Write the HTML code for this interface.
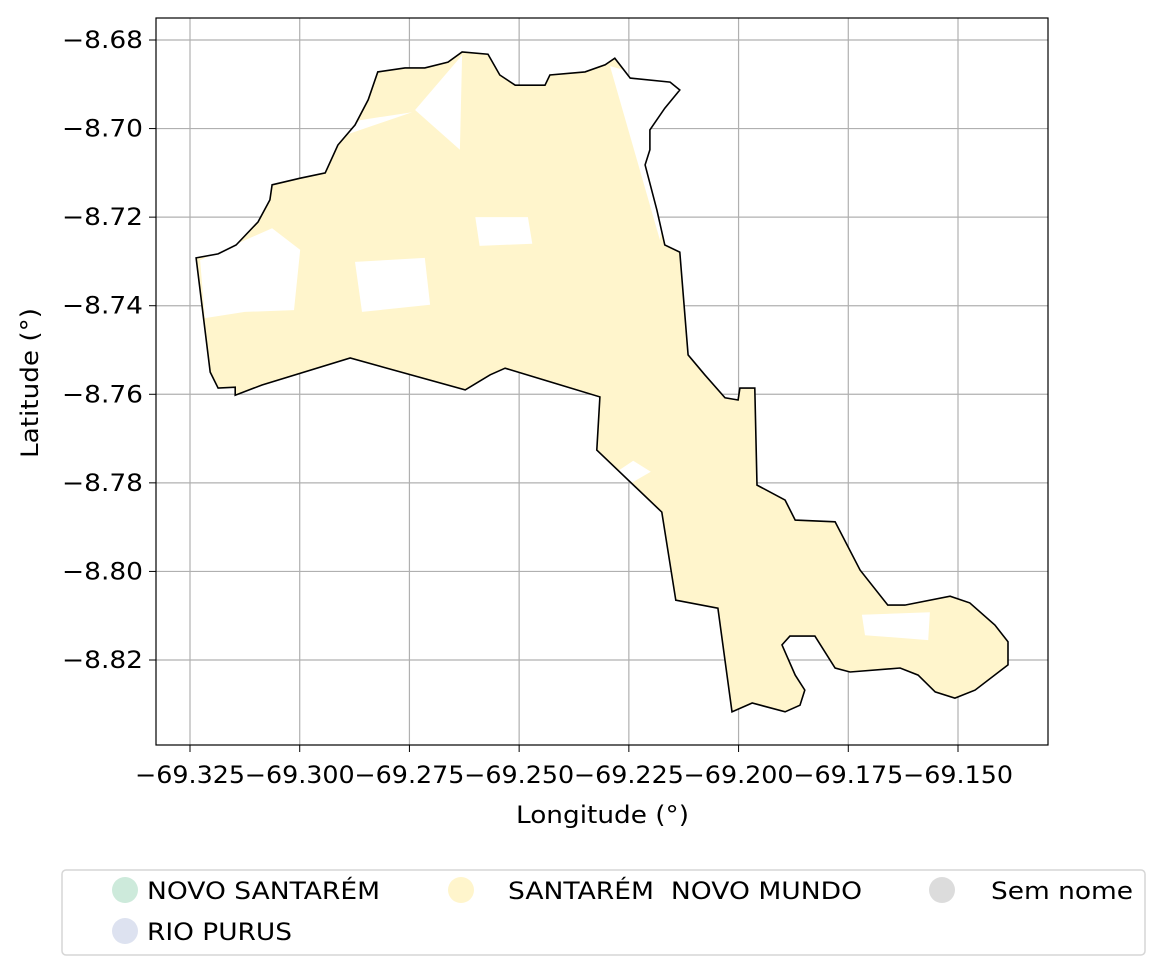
<!DOCTYPE html>
<html><head><meta charset="utf-8"><style>
body{margin:0;background:#fff;width:1164px;height:975px;overflow:hidden}
svg text{font-family:"DejaVu Sans","Liberation Sans",sans-serif;fill:#000}
</style></head><body>
<svg id="chart" width="1164" height="975">
<defs><clipPath id="bclip"><polygon id="clipPoly" points=""/></clipPath></defs>
<g id="grid"></g>
<g id="map"></g>
<rect x="156" y="18" width="892" height="727" fill="none" stroke="#000" stroke-width="1.2"/>
<g id="ticks"></g>
<text x="516" y="823" font-size="24" textLength="173" lengthAdjust="spacingAndGlyphs">Longitude (°)</text>
<text x="38" y="458" font-size="24" textLength="150" lengthAdjust="spacingAndGlyphs" transform="rotate(-90 38 458)">Latitude (°)</text>
<g>
<rect x="62" y="870" width="1083" height="85" rx="4" fill="#fff" stroke="#d6d6d6" stroke-width="1.5"/>
<g><circle cx="125" cy="890" r="13" fill="#cdeadb"/><text x="147" y="899" font-size="24" textLength="233" lengthAdjust="spacingAndGlyphs">NOVO SANTARÉM</text></g>
<g><circle cx="125" cy="931" r="13" fill="#dde2f0"/><text x="147" y="940" font-size="24" textLength="145" lengthAdjust="spacingAndGlyphs">RIO PURUS</text></g>
<g><circle cx="461" cy="890" r="13" fill="#fff5cc"/><text x="508" y="899" font-size="24" textLength="354" lengthAdjust="spacingAndGlyphs">SANTARÉM&#160; NOVO MUNDO</text></g>
<g><circle cx="942" cy="890" r="13" fill="#dcdcdc"/><text x="991" y="899" font-size="24" textLength="142" lengthAdjust="spacingAndGlyphs">Sem nome</text></g>
</g>
</svg>
<script>
const xTicks=[-69.325,-69.300,-69.275,-69.250,-69.225,-69.200,-69.175,-69.150];
const yTicks=[-8.68,-8.70,-8.72,-8.74,-8.76,-8.78,-8.80,-8.82];
const boundaryLon=[-69.3236,-69.3186,-69.3145,-69.3095,-69.3068,-69.3063,-69.2999,-69.2942,-69.2913,-69.2874,-69.2844,-69.2822,-69.2760,-69.2715,-69.2662,-69.2630,-69.2571,-69.2544,-69.2509,-69.2441,-69.2430,-69.2350,-69.2304,-69.2282,-69.2247,-69.2156,-69.2134,-69.2168,-69.2202,-69.2202,-69.2213,-69.2186,-69.2168,-69.2134,-69.2115,-69.2077,-69.2031,-69.2001,-69.1997,-69.1963,-69.1958,-69.1894,-69.1871,-69.1780,-69.1723,-69.1660,-69.1621,-69.1518,-69.1473,-69.1416,-69.1386,-69.1386,-69.1461,-69.1507,-69.1552,-69.1591,-69.1632,-69.1746,-69.1780,-69.1826,-69.1883,-69.1901,-69.1871,-69.1849,-69.1860,-69.1894,-69.1969,-69.2015,-69.2047,-69.2143,-69.2175,-69.2323,-69.2316,-69.2532,-69.2566,-69.2623,-69.2885,-69.3086,-69.3147,-69.3147,-69.3186,-69.3204];
const boundaryLat=[-8.7292,-8.7283,-8.7263,-8.7211,-8.7161,-8.7127,-8.7112,-8.7100,-8.7037,-8.6992,-8.6935,-8.6872,-8.6863,-8.6863,-8.6850,-8.6827,-8.6832,-8.6879,-8.6902,-8.6902,-8.6879,-8.6872,-8.6856,-8.6841,-8.6886,-8.6895,-8.6913,-8.6954,-8.7003,-8.7048,-8.7082,-8.7184,-8.7263,-8.7279,-8.7511,-8.7556,-8.7608,-8.7613,-8.7586,-8.7586,-8.7805,-8.7839,-8.7884,-8.7888,-8.7997,-8.8076,-8.8076,-8.8056,-8.8071,-8.8121,-8.8159,-8.8211,-8.8268,-8.8286,-8.8272,-8.8234,-8.8218,-8.8227,-8.8218,-8.8146,-8.8146,-8.8166,-8.8234,-8.8268,-8.8302,-8.8317,-8.8297,-8.8317,-8.8083,-8.8065,-8.7866,-8.7726,-8.7606,-8.7541,-8.7556,-8.7590,-8.7518,-8.7579,-8.7602,-8.7584,-8.7586,-8.7550];
const holesLon=[[-69.3227,-69.3063,-69.2999,-69.3013,-69.3125,-69.3216],[-69.2897,-69.2744,-69.2863],[-69.2737,-69.2630,-69.2635],[-69.2293,-69.2134,-69.2179],[-69.2874,-69.2715,-69.2703,-69.2858],[-69.1719,-69.1564,-69.1568,-69.1712],[-69.2600,-69.2480,-69.2470,-69.2590],[-69.2300,-69.2240,-69.2200,-69.2270]];
const holesLat=[[-8.7297,-8.7225,-8.7274,-8.7410,-8.7414,-8.7428],[-8.7015,-8.6963,-8.6981],[-8.6958,-8.6834,-8.7048],[-8.6859,-8.6902,-8.7252],[-8.7301,-8.7292,-8.7398,-8.7414],[-8.8098,-8.8092,-8.8155,-8.8144],[-8.7200,-8.7200,-8.7260,-8.7265],[-8.7790,-8.7750,-8.7775,-8.7815]];
const X=v=>190+(v+69.325)/0.025*109.714;
const Y=v=>40-(v+8.68)/0.02*88.571;
const NS="http://www.w3.org/2000/svg";
const grid=document.getElementById('grid'),ticks=document.getElementById('ticks'),map=document.getElementById('map');
xTicks.forEach(t=>{const x=X(t);
 const l=document.createElementNS(NS,'line');l.setAttribute('x1',x);l.setAttribute('x2',x);l.setAttribute('y1',18);l.setAttribute('y2',745);l.setAttribute('stroke','#b0b0b0');l.setAttribute('stroke-width','1.2');
 
 grid.appendChild(l);
 const k=document.createElementNS(NS,'line');k.setAttribute('x1',x);k.setAttribute('x2',x);k.setAttribute('y1',745);k.setAttribute('y2',752);k.setAttribute('stroke','#000');
 
 ticks.appendChild(k);
 const tx=document.createElementNS(NS,'text');tx.setAttribute('x',x-55);tx.setAttribute('y',783);tx.setAttribute('font-size','24');tx.setAttribute('textLength','110');tx.setAttribute('lengthAdjust','spacingAndGlyphs');tx.textContent='\u2212'+Math.abs(t).toFixed(3);
 
 ticks.appendChild(tx);});
yTicks.forEach(t=>{const y=Y(t);
 const l=document.createElementNS(NS,'line');l.setAttribute('x1',156);l.setAttribute('x2',1048);l.setAttribute('y1',y);l.setAttribute('y2',y);l.setAttribute('stroke','#b0b0b0');l.setAttribute('stroke-width','1.2');
 
 grid.appendChild(l);
 const k=document.createElementNS(NS,'line');k.setAttribute('x1',149);k.setAttribute('x2',156);k.setAttribute('y1',y);k.setAttribute('y2',y);k.setAttribute('stroke','#000');
 
 ticks.appendChild(k);
 const tx=document.createElementNS(NS,'text');tx.setAttribute('x',62);tx.setAttribute('y',y+8);tx.setAttribute('font-size','24');tx.setAttribute('textLength','81');tx.setAttribute('lengthAdjust','spacingAndGlyphs');tx.textContent='\u2212'+Math.abs(t).toFixed(2);
 
 ticks.appendChild(tx);});
const pts=(lo,la)=>lo.map((v,i)=>X(v).toFixed(1)+','+Y(la[i]).toFixed(1)).join(' ');
document.getElementById('clipPoly').setAttribute('points',pts(boundaryLon,boundaryLat));
const fill=document.createElementNS(NS,'polygon');fill.setAttribute('points',pts(boundaryLon,boundaryLat));fill.setAttribute('fill','#fff5cc');

map.appendChild(fill);
const hg=document.createElementNS(NS,'g');hg.setAttribute('clip-path','url(#bclip)');

map.appendChild(hg);
holesLon.forEach((h,i)=>{const p=document.createElementNS(NS,'polygon');p.setAttribute('points',pts(h,holesLat[i]));p.setAttribute('fill','#fff');
 
 hg.appendChild(p);});
const b=document.createElementNS(NS,'polygon');b.setAttribute('points',pts(boundaryLon,boundaryLat));b.setAttribute('fill','none');b.setAttribute('stroke','#000');b.setAttribute('stroke-width','1.6');

map.appendChild(b);
</script>
</body></html>
